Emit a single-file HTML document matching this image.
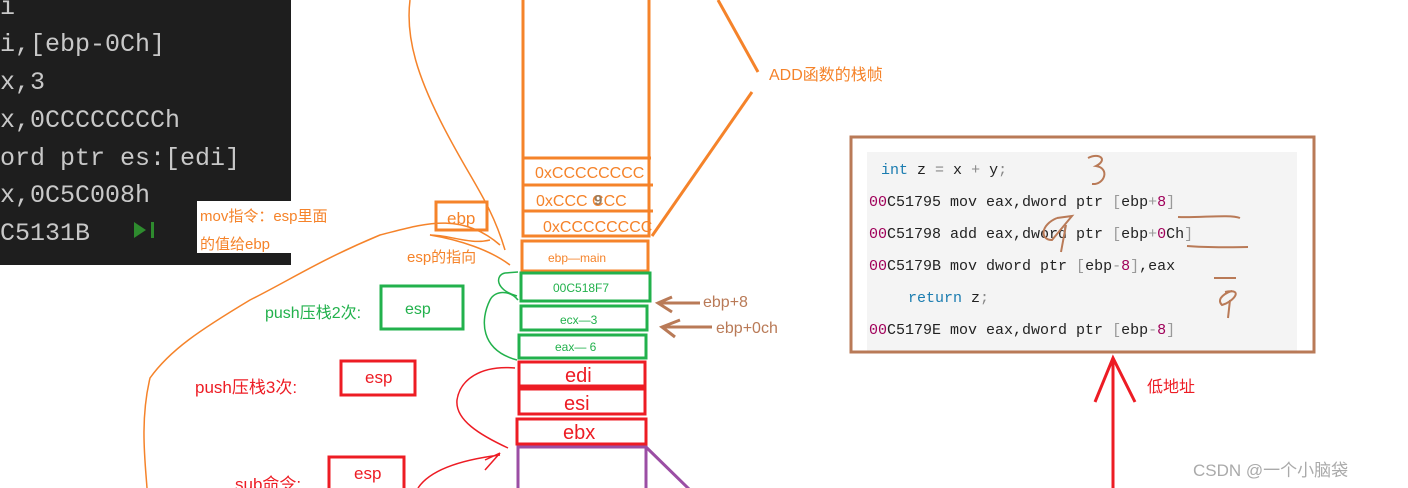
<!DOCTYPE html>
<html><head><meta charset="utf-8"><style>
body{margin:0;width:1408px;height:488px;background:#fff;overflow:hidden;position:relative;font-family:"Liberation Sans","Noto Sans CJK SC",sans-serif}
svg{position:absolute;left:0;top:0}
.m{font-family:"Liberation Mono","DejaVu Sans Mono",monospace}
</style></head><body>
<svg width="1408" height="488" viewBox="0 0 1408 488">
<rect x="0" y="0" width="291" height="265" fill="#1e1e1e"/>
<g class="m" fill="#c8c8c8" font-size="25" font-family="Liberation Mono,monospace">
<text x="0" y="14">i</text>
<text x="0" y="51">i,[ebp-0Ch]</text>
<text x="0" y="89">x,3</text>
<text x="0" y="127">x,0CCCCCCCCh</text>
<text x="0" y="165">ord ptr es:[edi]</text>
<text x="0" y="202">x,0C5C008h</text>
<text x="0" y="240">C5131B</text>
</g>
<path d="M134 222 L146 230 L134 238Z" fill="#2e8b2e"/><rect x="151" y="222" width="3" height="16" fill="#2e8b2e"/>
<rect x="197" y="201" width="94" height="52" fill="#fff"/>
<g fill="#f5832a" font-size="15"><text x="200" y="221">mov指令：esp里面</text><text x="200" y="249">的值给ebp</text></g>

<!-- orange curves -->
<g fill="none" stroke="#f5832a" stroke-width="1.5">
<path d="M410 0 C405 40 420 80 440 120 C470 180 490 200 505 250"/>
<path d="M500 245 C460 210 420 225 380 235 C320 260 290 280 250 300 C200 330 170 350 150 378 C140 420 145 460 147 488"/>
<path d="M490 240 C470 245 450 235 430 235 C460 240 490 250 510 265"/>
</g>
<rect x="436" y="202" width="51" height="28" fill="none" stroke="#f5832a" stroke-width="3"/>
<text x="447" y="224" fill="#f5832a" font-size="17">ebp</text>
<text x="407" y="262" fill="#f5832a" font-size="15">esp的指向</text>

<!-- stack -->
<g fill="none" stroke="#f5832a" stroke-width="3">
<rect x="523" y="-5" width="126" height="241"/>
<line x1="523" y1="158" x2="651" y2="158"/><line x1="523" y1="185" x2="653" y2="185"/><line x1="523" y1="211" x2="653" y2="211"/>
<rect x="522" y="241" width="126" height="30"/>
<line x1="718" y1="0" x2="758" y2="72"/><line x1="752" y1="92" x2="652" y2="236"/>
</g>
<g fill="#f5832a" font-size="16"><text x="535" y="178">0xCCCCCCCC</text><text x="536" y="206">0xCCC   CCC</text><text x="543" y="232">0xCCCCCCCC</text>
<text x="548" y="262" font-size="12">ebp—main</text></g>
<text x="594" y="205" fill="#9b7b5a" font-size="15" font-weight="bold">9</text>
<text x="769" y="80" fill="#f5832a" font-size="16">ADD函数的栈帧</text>

<g fill="none" stroke="#22b14c" stroke-width="3">
<rect x="521" y="273" width="129" height="28"/><rect x="521" y="306" width="126" height="24"/><rect x="519" y="335" width="127" height="23"/>
<rect x="381" y="286" width="82" height="43"/>
</g>
<g fill="#22b14c" font-size="12"><text x="553" y="292">00C518F7</text><text x="560" y="324">ecx—3</text><text x="555" y="351">eax—   6</text></g>
<text x="405" y="314" fill="#22b14c" font-size="16">esp</text>
<text x="265" y="318" fill="#22b14c" font-size="16">push压栈2次:</text>
<g fill="none" stroke="#22b14c" stroke-width="1.5"><path d="M517 360 C480 350 480 320 490 300 C495 290 510 290 518 300"/><path d="M517 296 C495 290 495 275 505 273 L518 272"/></g>

<g fill="none" stroke="#ed1c24" stroke-width="3">
<rect x="519" y="362" width="126" height="24"/><rect x="519" y="389" width="126" height="25"/><rect x="517" y="419" width="129" height="25"/>
<rect x="341" y="361" width="74" height="34"/><rect x="329" y="457" width="75" height="40"/>
</g>
<g fill="#ed1c24" font-size="20"><text x="565" y="382">edi</text><text x="564" y="410">esi</text><text x="563" y="439">ebx</text></g>
<g fill="#ed1c24" font-size="17"><text x="365" y="383">esp</text><text x="354" y="479">esp</text></g>
<text x="195" y="393" fill="#ed1c24" font-size="17">push压栈3次:</text>
<text x="235" y="490" fill="#ed1c24" font-size="17">sub命令:</text>
<g fill="none" stroke="#ed1c24" stroke-width="1.5"><path d="M515 368 C480 365 460 380 457 400 C455 420 480 435 508 448"/><path d="M418 488 C430 470 460 460 500 455 M485 460 L500 453 L485 470"/></g>

<g fill="none" stroke="#9b4ea4" stroke-width="3"><path d="M518 490 V447 H646 V490"/><line x1="646" y1="447" x2="690" y2="490"/></g>

<g fill="none" stroke="#b97a57" stroke-width="3"><path d="M700 303 H660 M672 297 L658 303 L672 312"/><path d="M712 327 H665 M680 320 L662 327 L675 337"/></g>
<g fill="#b97a57" font-size="16"><text x="703" y="307">ebp+8</text><text x="716" y="333">ebp+0ch</text></g>

<!-- code box -->
<rect x="867" y="152" width="430" height="199" fill="#f4f4f4"/>
<rect x="851" y="137" width="463" height="215" fill="none" stroke="#b97a57" stroke-width="3"/>
<g font-family="Liberation Mono,monospace" font-size="15" fill="#222">
<text x="881" y="174"><tspan fill="#1a7cb0">int</tspan> z <tspan fill="#888">=</tspan> x <tspan fill="#888">+</tspan> y<tspan fill="#888">;</tspan></text>
<text x="869" y="206"><tspan fill="#a0005a">00</tspan>C51795  mov        eax,dword ptr <tspan fill="#999">[</tspan>ebp<tspan fill="#999">+</tspan><tspan fill="#a0005a">8</tspan><tspan fill="#999">]</tspan></text>
<text x="869" y="238"><tspan fill="#a0005a">00</tspan>C51798  add        eax,dword ptr <tspan fill="#999">[</tspan>ebp<tspan fill="#999">+</tspan><tspan fill="#a0005a">0</tspan>Ch<tspan fill="#999">]</tspan></text>
<text x="869" y="270"><tspan fill="#a0005a">00</tspan>C5179B  mov        dword ptr <tspan fill="#999">[</tspan>ebp<tspan fill="#999">-</tspan><tspan fill="#a0005a">8</tspan><tspan fill="#999">]</tspan>,eax</text>
<text x="908" y="302" fill="#1a7cb0">return <tspan fill="#222">z</tspan><tspan fill="#888">;</tspan></text>
<text x="869" y="334"><tspan fill="#a0005a">00</tspan>C5179E  mov        eax,dword ptr <tspan fill="#999">[</tspan>ebp<tspan fill="#999">-</tspan><tspan fill="#a0005a">8</tspan><tspan fill="#999">]</tspan></text>
</g>
<g fill="none" stroke="#b97a57" stroke-width="2">
<path d="M1088 158 C1100 152 1108 160 1096 166 C1110 168 1105 185 1092 184"/>
<path d="M1178 217 C1200 218 1230 214 1240 218 M1187 246 C1210 248 1240 247 1248 247"/>
<path d="M1214 278 H1236"/>
<path d="M1057 218 L1072 216 L1052 240 C1040 240 1040 225 1057 218 M1066 225 L1061 252"/>
<path d="M1225 292 C1245 288 1233 302 1222 305 C1215 298 1228 292 1232 291 M1230 300 L1228 318"/>
</g>
<g fill="none" stroke="#ed1c24" stroke-width="3"><line x1="1113" y1="358" x2="1113" y2="488"/><path d="M1095 402 L1113 358 L1135 402"/></g>
<text x="1147" y="392" fill="#ed1c24" font-size="16">低地址</text>
<text x="1193" y="476" fill="#aaa" font-size="17">CSDN @一个小脑袋</text>
</svg>
</body></html>
